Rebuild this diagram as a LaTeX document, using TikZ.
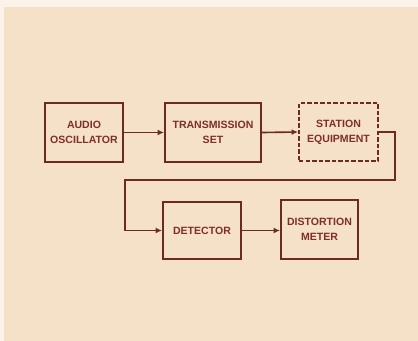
\documentclass[tikz,border=0pt]{standalone}
\usepackage{fontspec}
\setmainfont{Liberation Sans}
\usetikzlibrary{arrows.meta}
\definecolor{bg}{HTML}{F5E1C8}
\definecolor{bgtop}{HTML}{FBF3EA}
\definecolor{ink}{HTML}{6B2A24}
\definecolor{txt}{HTML}{7E2E2C}
\newlength{\unitpx}
\setlength{\unitpx}{0.03cm}
\tikzset{
  blk/.style={draw=ink, line width=1.6pt, minimum width=78\unitpx, minimum height=59\unitpx, inner sep=0pt,
    font=\bfseries\fontsize{9}{13}\selectfont, text=txt, align=center},
  dashblk/.style={blk, dash pattern=on 3.8pt off 1.8pt},
  conn/.style={draw=ink, line width=1.4pt, -{Latex[length=5.5pt,width=5pt]}},
}
\begin{document}
\begin{tikzpicture}[x=0.03cm,y=-0.03cm]
\fill[bg] (0,0) rectangle (418,341);
\fill[bgtop] (0,0) rectangle (418,7);
\fill[bgtop] (0,0) rectangle (4,341);
\useasboundingbox (0,0) rectangle (418,341);
\node[blk] (osc) at (84,132.5) {AUDIO\\OSCILLATOR};
\node[blk, minimum width=96\unitpx] (tx) at (213,132.5) {TRANSMISSION\\SET};
\node[dashblk, minimum width=79\unitpx, minimum height=58\unitpx] (st) at (338.5,132) {STATION\\EQUIPMENT};
\node[blk, minimum height=57\unitpx] (det) at (202,230.5) {DETECTOR};
\node[blk, minimum width=77\unitpx] (dm) at (319.5,229.5) {DISTORTION\\METER};
\coordinate (c1) at (395,132);
\coordinate (c2) at (395,180);
\coordinate (c3) at (125,180);
\coordinate (c4) at (125,230.5);
\draw[conn] (osc.east) -- (tx.west);
\draw[conn] (tx.east) -- (st.west);
\draw[conn] (st.east) -- (c1) -- (c2) -- (c3) -- (c4) -- (det.west);
\draw[conn] (det.east) -- (det.east -| dm.west);
\end{tikzpicture}
\end{document}
